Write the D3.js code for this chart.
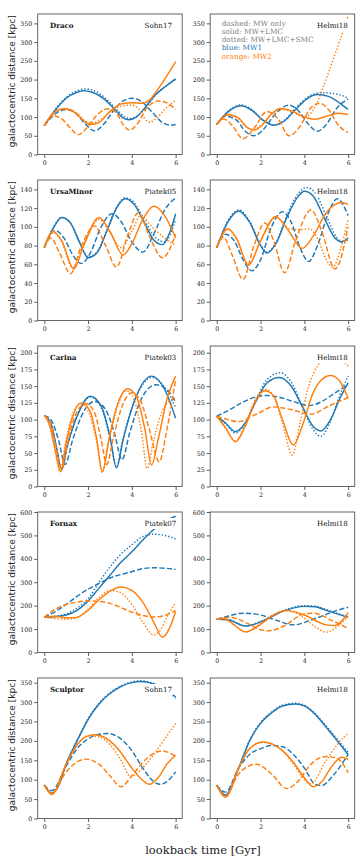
<!DOCTYPE html>
<html><head><meta charset="utf-8">
<script src="https://cdn.jsdelivr.net/npm/d3@7"></script>
<style>body{margin:0;background:#fff}</style>
</head><body>
<svg id="c" width="364" height="863"></svg>
<script>
// ---------- categories / labels ----------
const galaxies = ["Draco","UrsaMinor","Carina","Fornax","Sculptor"];
const leftSources = ["Sohn17","Piatek05","Piatek03","Piatek07","Sohn17"];
const rightSource = "Helmi18";
const yMaxes = [375,150,210,600,362];
const yTicksDraco = [0,50,100,150,200,250,300,350];
const yTicksUMi = [0,20,40,60,80,100,120,140];
const yTicksCarina = [0,25,50,75,100,125,150,175,200];
const yTicksFornax = [0,100,200,300,400,500,600];
const yTicksSculptor = [0,50,100,150,200,250,300,350];
const xTicks = [0,2,4,6];
const legendLines = ["dashed: MW only","solid: MW+LMC","dotted: MW+LMC+SMC","blue: MW1","orange: MW2"];

// ---------- Draco / Sohn17 ----------
const dS_blueDash = [[0,77],[0.5,108],[1,120],[1.4,112],[1.9,80],[2.3,63],[2.7,80],[3.2,120],[3.6,143],[4,150],[4.4,143],[4.9,115],[5.4,85],[5.8,78],[6,80]];
const dS_blueSolid = [[0,77],[0.5,118],[1,150],[1.5,166],[1.8,170],[2.2,166],[2.7,150],[3.2,122],[3.6,98],[3.85,93],[4.2,100],[4.6,125],[5,155],[5.5,180],[6,202]];
const dS_blueDot = [[0,77],[0.5,120],[1,153],[1.5,170],[1.9,175],[2.3,170],[2.8,150],[3.3,120],[3.7,100],[3.95,96],[4.3,105],[4.7,130],[5.1,160],[5.6,185],[6,200]];
const dS_orDash = [[0,77],[0.4,103],[0.8,95],[1.2,70],[1.55,53],[1.9,68],[2.4,105],[2.9,122],[3.3,110],[3.6,80],[3.9,65],[4.2,78],[4.7,125],[5.2,143],[5.6,138],[6,120]];
const dS_orSolid = [[0,77],[0.4,110],[0.9,122],[1.4,112],[1.8,90],[2.1,80],[2.5,85],[3,115],[3.5,135],[4,138],[4.5,137],[4.8,145],[5.2,175],[5.6,210],[6,248]];
const dS_orDot = [[0,77],[0.5,112],[1,123],[1.5,110],[1.9,88],[2.2,84],[2.6,95],[3.1,118],[3.6,130],[4,132],[4.3,122],[4.6,95],[4.8,86],[5.1,95],[5.5,120],[6,145]];
// ---------- Draco / Helmi18 ----------
const dH_blueDash = [[0,80],[0.4,102],[0.9,92],[1.3,62],[1.7,50],[2.1,65],[2.7,110],[3.3,132],[3.8,112],[4.2,80],[4.6,62],[5,80],[5.5,125],[6,148]];
const dH_blueSolid = [[0,80],[0.5,113],[1.1,130],[1.6,118],[2.1,92],[2.6,78],[3.1,90],[3.6,120],[4.1,148],[4.6,160],[5.1,155],[5.6,138],[6,120]];
const dH_blueDot = [[0,80],[0.5,115],[1.1,132],[1.6,120],[2.1,93],[2.6,79],[3.1,92],[3.6,124],[4.2,155],[4.8,165],[5.3,163],[5.7,158],[6,150]];
const dH_orDash = [[0,80],[0.3,95],[0.7,78],[1.2,42],[1.7,70],[2.3,115],[2.8,95],[3.3,50],[3.8,75],[4.3,125],[4.7,137],[5.1,120],[5.6,75],[6,59]];
const dH_orSolid = [[0,80],[0.5,107],[1,97],[1.4,72],[1.7,65],[2.1,80],[2.5,108],[2.9,123],[3.4,117],[4,100],[4.5,94],[5,102],[5.5,110],[6,107]];
const dH_orDot = [[0,80],[0.5,105],[1,95],[1.4,70],[1.65,67],[2.1,82],[2.5,108],[3,120],[3.5,112],[4,100],[4.4,118],[4.8,170],[5.2,235],[5.6,300],[6,370]];
// ---------- UrsaMinor / Piatek05 ----------
const uP_blueDash = [[0,78],[0.5,96],[0.9,88],[1.3,70],[1.7,61],[2.1,72],[2.6,100],[3.1,114],[3.5,106],[4,84],[4.5,73],[5,92],[5.5,118],[6,131]];
const uP_blueSolid = [[0,78],[0.4,98],[0.8,110],[1.2,104],[1.6,84],[2,67],[2.4,72],[2.9,98],[3.3,120],[3.7,130],[4.1,124],[4.6,103],[5,86],[5.4,81],[5.7,92],[6,114]];
const uP_blueDot = [[0,78],[0.4,99],[0.8,110],[1.2,104],[1.6,85],[2,68],[2.4,73],[2.9,99],[3.3,121],[3.7,131],[4.1,126],[4.6,106],[5.1,88],[5.5,84],[6,108]];
const uP_orDash = [[0,78],[0.3,88],[0.7,72],[1.2,50],[1.7,80],[2.3,101],[2.8,80],[3.3,57],[3.8,90],[4.3,115],[4.8,90],[5.4,67],[6,92]];
const uP_orSolid = [[0,78],[0.4,95],[0.8,85],[1.35,55],[1.8,80],[2.5,110],[3,95],[3.6,70],[4,82],[4.5,108],[5,122],[5.5,112],[6,88]];
const uP_orDot = [[0,78],[0.4,94],[0.8,84],[1.3,56],[1.8,82],[2.5,108],[3,94],[3.5,78],[4,95],[4.4,112],[5,98],[5.5,88],[6,80]];
// ---------- UrsaMinor / Helmi18 ----------
const uH_blueDash = [[0,78],[0.4,92],[0.8,85],[1.2,65],[1.6,53],[2,65],[2.5,100],[3,116],[3.4,105],[3.8,78],[4.2,63],[4.6,80],[5.1,115],[5.5,130],[6,112]];
const uH_blueSolid = [[0,78],[0.5,105],[1,117],[1.5,105],[2,80],[2.3,72],[2.7,82],[3.2,110],[3.7,132],[4,138],[4.4,133],[4.9,110],[5.4,88],[5.7,84],[6,88]];
const uH_blueDot = [[0,78],[0.5,106],[1,118],[1.5,106],[2,81],[2.3,73],[2.7,83],[3.2,112],[3.7,135],[4.1,142],[4.5,136],[5,112],[5.5,88],[5.8,83],[6,87]];
const uH_orDash = [[0,78],[0.3,89],[0.7,70],[1.2,44],[1.7,80],[2.2,104],[2.6,85],[3.1,51],[3.6,85],[4.3,118],[4.8,95],[5.4,55],[6,100]];
const uH_orSolid = [[0,78],[0.5,98],[0.9,88],[1.45,59],[2,85],[2.7,111],[3.3,95],[3.9,77],[4.4,90],[5,115],[5.7,126],[6,124]];
const uH_orDot = [[0,78],[0.5,97],[0.9,87],[1.45,60],[2,86],[2.7,110],[3.3,98],[3.8,97],[4.2,98],[4.6,88],[5,65],[5.3,57],[5.7,80],[6,108]];
// ---------- Carina / Piatek03 ----------
const cP_blueDash = [[0,106],[0.3,100],[0.65,70],[0.95,33],[1.3,70],[1.8,112],[2.3,127],[2.8,115],[3.2,80],[3.55,40],[3.9,80],[4.5,135],[5.1,152],[5.6,145],[6,126]];
const cP_blueSolid = [[0,106],[0.3,95],[0.55,60],[0.8,25],[1.05,60],[1.5,105],[2.1,135],[2.6,120],[3,75],[3.3,28],[3.6,70],[4.2,135],[4.9,165],[5.5,145],[6,102]];
const cP_blueDot = [[0,106],[0.3,94],[0.55,58],[0.78,27],[1.05,62],[1.5,106],[2.1,134],[2.6,118],[3,72],[3.3,29],[3.6,72],[4.2,134],[4.9,163],[5.5,148],[6,118]];
const cP_orDash = [[0,106],[0.3,94],[0.55,58],[0.8,26],[1.05,62],[1.4,105],[1.9,124],[2.3,110],[2.6,70],[2.85,33],[3.15,72],[3.5,115],[4,140],[4.4,128],[4.8,85],[5.25,37],[5.6,85],[6,160]];
const cP_orSolid = [[0,106],[0.25,92],[0.5,55],[0.75,22],[1,65],[1.3,105],[1.7,125],[2.1,112],[2.4,70],[2.65,22],[2.95,70],[3.3,118],[3.8,146],[4.2,135],[4.6,85],[4.9,32],[5.2,70],[5.6,130],[6,165]];
const cP_orDot = [[0,106],[0.25,90],[0.5,52],[0.72,22],[0.95,62],[1.25,103],[1.65,124],[2.05,110],[2.4,65],[2.65,21],[2.95,68],[3.3,115],[3.75,143],[4.1,130],[4.45,80],[4.7,27],[5,70],[5.5,120],[6,132]];
// ---------- Carina / Helmi18 ----------
const cH_blueDash = [[0,105],[0.6,115],[1.2,126],[1.8,134],[2.3,136],[2.9,133],[3.5,127],[4.2,121],[4.8,127],[5.4,140],[6,152]];
const cH_blueSolid = [[0,105],[0.4,95],[0.85,82],[1.3,95],[1.8,128],[2.3,155],[2.85,163],[3.4,150],[3.9,120],[4.4,90],[4.75,83],[5.2,100],[5.6,130],[6,155]];
const cH_blueDot = [[0,105],[0.4,94],[0.85,80],[1.3,94],[1.8,130],[2.3,160],[2.9,170],[3.4,156],[3.9,120],[4.4,85],[4.75,75],[5.2,98],[5.6,135],[6,165]];
const cH_orDash = [[0,105],[0.5,100],[1,97],[1.8,108],[2.6,119],[3.4,115],[4.3,108],[5.1,120],[6,133]];
const cH_orSolid = [[0,105],[0.4,88],[0.85,67],[1.3,90],[1.8,130],[2.2,143],[2.6,135],[3,100],[3.5,62],[3.9,90],[4.4,140],[4.8,160],[5.2,166],[5.6,158],[6,132]];
const cH_orDot = [[0,105],[0.4,87],[0.85,68],[1.3,92],[1.8,133],[2.25,145],[2.6,135],[3,95],[3.45,47],[3.8,95],[4.2,150],[4.6,180],[5,194],[5.3,197],[5.6,193],[6,180]];
// ---------- Fornax / Piatek07 ----------
const fP_blueDash = [[0,150],[0.5,175],[1,205],[1.5,240],[2,270],[2.5,295],[3,318],[4,345],[4.5,358],[5,362],[5.5,360],[6,355]];
const fP_blueSolid = [[0,150],[0.5,153],[1,160],[1.5,180],[2,220],[2.5,275],[3,330],[3.5,385],[4,430],[4.5,480],[5,525],[5.5,560],[6,582]];
const fP_blueDot = [[0,150],[1,165],[1.5,190],[2,230],[2.5,300],[3,365],[3.5,420],[4,460],[4.5,495],[5,505],[5.5,500],[6,485]];
const fP_orDash = [[0,150],[0.5,185],[1,205],[1.5,215],[2,220],[2.5,218],[3,210],[3.5,192],[4,172],[4.5,158],[5,152],[5.5,158],[6,180]];
const fP_orSolid = [[0,150],[0.5,155],[1,148],[1.4,148],[2,180],[2.5,225],[3,262],[3.5,280],[4,265],[4.5,215],[5,130],[5.4,65],[5.7,100],[6,175]];
const fP_orDot = [[0,150],[1,142],[1.5,150],[2,185],[2.5,235],[3,265],[3.5,255],[4,205],[4.5,130],[5,75],[5.3,95],[5.6,150],[6,215]];
// ---------- Fornax / Helmi18 ----------
const fH_blueDash = [[0,142],[0.5,155],[1.2,168],[2,160],[2.8,135],[3.5,118],[4.5,145],[5.5,180],[6,193]];
const fH_blueSolid = [[0,142],[0.5,140],[1.3,113],[2,130],[3,175],[4,197],[4.5,195],[5,180],[6,150]];
const fH_blueDot = [[0,142],[0.5,141],[1.3,114],[2,132],[3,178],[4,200],[4.5,198],[5,183],[6,152]];
const fH_orDash = [[0,142],[0.6,150],[1.5,120],[2,97],[2.4,93],[3,110],[4,165],[4.4,168],[5.3,135],[6,103]];
const fH_orSolid = [[0,142],[0.3,146],[0.8,118],[1.3,88],[2,120],[2.6,160],[3.2,180],[4,160],[5,118],[5.4,115],[6,170]];
const fH_orDot = [[0,142],[0.3,145],[0.8,117],[1.3,88],[2,125],[2.6,162],[3.2,177],[3.8,160],[4.5,110],[5,87],[5.5,110],[6,155]];
// ---------- Sculptor / Sohn17 ----------
const sS_blueDash = [[0,86],[0.35,72],[1,135],[1.5,180],[2,205],[2.5,217],[2.9,219],[3.5,205],[4,175],[4.5,130],[5,95],[5.3,88],[5.6,95],[6,120]];
const sS_blueSolid = [[0,86],[0.35,65],[0.6,78],[1,140],[1.5,200],[2,255],[2.5,295],[3,322],[3.5,340],[4,350],[4.4,353],[5,347],[5.5,335],[6,313]];
const sS_blueDot = [[0,86],[0.35,66],[0.6,80],[1,142],[1.5,202],[2,257],[2.5,297],[3,324],[3.5,342],[4,352],[4.4,355],[5,348],[5.5,333],[6,310]];
const sS_orDash = [[0,86],[0.35,65],[1,120],[1.9,153],[2.5,140],[3,110],[3.5,82],[4,110],[4.5,145],[5,168],[5.4,174],[6,160]];
const sS_orSolid = [[0,86],[0.35,62],[1,140],[1.5,190],[2,213],[2.3,216],[3,200],[3.5,170],[4,130],[4.5,98],[4.8,88],[5.2,105],[5.6,140],[6,163]];
const sS_orDot = [[0,86],[0.35,63],[1,140],[2,213],[2.5,210],[3,190],[3.5,150],[3.95,108],[4.3,120],[5,165],[5.5,205],[6,245]];
// ---------- Sculptor / Helmi18 ----------
const sH_blueDash = [[0,86],[0.4,68],[1,130],[1.5,165],[2,180],[2.5,188],[3,185],[3.5,165],[4,130],[4.5,88],[4.8,85],[5.3,110],[6,165]];
const sH_blueSolid = [[0,86],[0.4,60],[1,130],[1.5,200],[2,245],[2.5,272],[3,290],[3.6,295],[4,290],[4.5,268],[5,235],[5.5,200],[6,165]];
const sH_blueDot = [[0,86],[0.4,61],[1,131],[1.5,202],[2,247],[2.5,274],[3,292],[3.6,297],[4,292],[4.5,270],[5,238],[5.5,205],[6,170]];
const sH_orDash = [[0,86],[0.4,58],[1,115],[1.8,140],[2.5,115],[3.2,77],[3.7,95],[4.3,140],[5,160],[5.5,155],[6,118]];
const sH_orSolid = [[0,86],[0.4,55],[1,130],[1.5,180],[2.1,197],[2.5,193],[3,175],[3.5,145],[4,105],[4.4,82],[4.8,95],[5.2,130],[5.7,158],[6,152]];
const sH_orDot = [[0,86],[0.4,56],[1,130],[1.5,181],[2.1,196],[3,175],[3.5,140],[4,100],[4.3,90],[5,150],[5.5,190],[6,220]];

// ---------- table for drawing ----------
const BLUE = "#1f77b4", ORANGE = "#ff7f0e";
const mk = (a,b,c,d,e,f) => [
  {c:BLUE, s:"dash", d:a},{c:BLUE, s:"solid", d:b},{c:BLUE, s:"dot", d:c},
  {c:ORANGE, s:"dash", d:d},{c:ORANGE, s:"solid", d:e},{c:ORANGE, s:"dot", d:f}];
const yTickSets = [yTicksDraco,yTicksUMi,yTicksCarina,yTicksFornax,yTicksSculptor];
const curveSets = [
  [mk(dS_blueDash,dS_blueSolid,dS_blueDot,dS_orDash,dS_orSolid,dS_orDot), mk(dH_blueDash,dH_blueSolid,dH_blueDot,dH_orDash,dH_orSolid,dH_orDot)],
  [mk(uP_blueDash,uP_blueSolid,uP_blueDot,uP_orDash,uP_orSolid,uP_orDot), mk(uH_blueDash,uH_blueSolid,uH_blueDot,uH_orDash,uH_orSolid,uH_orDot)],
  [mk(cP_blueDash,cP_blueSolid,cP_blueDot,cP_orDash,cP_orSolid,cP_orDot), mk(cH_blueDash,cH_blueSolid,cH_blueDot,cH_orDash,cH_orSolid,cH_orDot)],
  [mk(fP_blueDash,fP_blueSolid,fP_blueDot,fP_orDash,fP_orSolid,fP_orDot), mk(fH_blueDash,fH_blueSolid,fH_blueDot,fH_orDash,fH_orSolid,fH_orDot)],
  [mk(sS_blueDash,sS_blueSolid,sS_blueDot,sS_orDash,sS_orSolid,sS_orDot), mk(sH_blueDash,sH_blueSolid,sH_blueDot,sH_orDash,sH_orSolid,sH_orDot)]
];

// ---------- drawing ----------
const svg = d3.select("#c");
const SERIF = "'DejaVu Serif', serif", SANS = "'DejaVu Sans', sans-serif";
const W = 144.5, H = 140.5;
const colX = [37.7, 210.2], rowY = [14, 180, 346, 512, 678];
const dashes = {solid:null, dash:"5.2,2.3", dot:"1.4,1.9"};

galaxies.forEach((gal, r) => {
  [0,1].forEach(col => {
    const g = svg.append("g").attr("transform", `translate(${colX[col]},${rowY[r]})`);
    const x = d3.scaleLinear().domain([-0.3, 6.3]).range([0, W]);
    const y = d3.scaleLinear().domain([0, yMaxes[r]]).range([H, 0]);
    const cid = `clip${r}_${col}`;
    g.append("clipPath").attr("id", cid).append("rect").attr("width", W).attr("height", H);
    const line = d3.line().x(d => x(d[0])).y(d => y(d[1])).curve(d3.curveMonotoneX);
    const lg = g.append("g").attr("clip-path", `url(#${cid})`);
    curveSets[r][col].forEach(cv => {
      lg.append("path").attr("d", line(cv.d)).attr("fill", "none")
        .attr("stroke", cv.c).attr("stroke-width", 1.45)
        .attr("stroke-dasharray", dashes[cv.s]);
    });
    // axes
    const ya = g.append("g").call(d3.axisLeft(y).tickValues(yTickSets[r]).tickSize(3.5).tickSizeOuter(0).tickPadding(2));
    const xa = g.append("g").attr("transform", `translate(0,${H})`).call(d3.axisBottom(x).tickValues(xTicks).tickSize(3.5).tickSizeOuter(0).tickPadding(2.5).tickFormat(d3.format("d")));
    [ya, xa].forEach(a => {
      a.select(".domain").remove();
      a.selectAll("line").attr("stroke", "#333").attr("stroke-width", 0.8);
      a.selectAll("text").attr("font-family", SERIF).attr("font-size", 6.3).attr("fill", "#222");
    });
    g.append("rect").attr("width", W).attr("height", H).attr("fill", "none").attr("stroke", "#555").attr("stroke-width", 0.9);
    // source label with white box
    const src = col === 0 ? leftSources[r] : rightSource;
    const st = g.append("text").attr("x", W * 0.74).attr("y", 14).attr("font-family", SERIF)
      .attr("font-size", 7.1).attr("fill", "#111").text(src);
    const bb = st.node().getBBox();
    g.insert("rect", () => st.node()).attr("x", bb.x - 1.5).attr("y", bb.y - 1).attr("width", bb.width + 3).attr("height", bb.height + 2).attr("fill", "#fff");
    if (col === 0) {
      g.append("text").attr("x", 12.3).attr("y", 14).attr("font-family", SERIF).attr("font-weight", "bold")
        .attr("font-size", 7.1).attr("fill", "#111").text(gal);
      svg.append("text").attr("transform", `translate(14.5,${rowY[r] + H / 2 - 3}) rotate(-90)`)
        .attr("text-anchor", "middle").attr("font-family", SANS).attr("font-size", 9.1).attr("fill", "#222")
        .text("galactocentric distance [kpc]");
    }
    if (r === 0 && col === 1) {
      const cols = ["#808080","#808080","#808080",BLUE,ORANGE];
      legendLines.forEach((t, i) => {
        g.append("text").attr("x", 11.5).attr("y", 11.5 + i * 8.3).attr("font-family", SERIF)
          .attr("font-size", 7.3).attr("fill", cols[i]).text(t);
      });
    }
  });
});
svg.append("text").attr("x", 203).attr("y", 854).attr("text-anchor", "middle")
  .attr("font-family", SERIF).attr("font-size", 11.5).attr("fill", "#222").text("lookback time [Gyr]");
</script>
</body></html>
